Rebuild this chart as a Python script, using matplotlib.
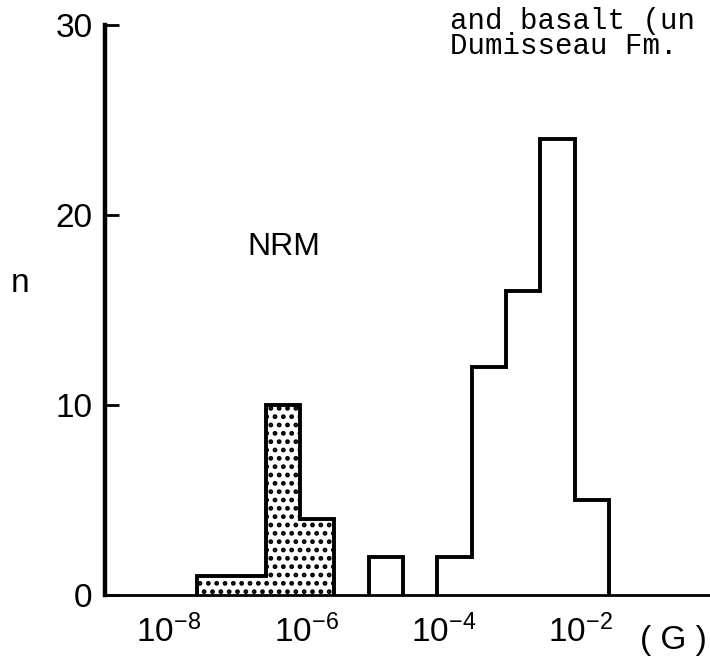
import numpy as np
import matplotlib
matplotlib.use("Agg")
import matplotlib.pyplot as plt
import matplotlib.transforms as mtransforms

# histogram data, x in log10(G), half-decade bins
stippled_edges = [-7.0, -6.5, -6.0, -5.5, -5.0]
stippled_counts = [1, 1, 10, 4]
open_edges = [-4.5, -4.0, -3.5, -3.0, -2.5, -2.0, -1.5, -1.0]
open_counts = [2, 0, 2, 12, 16, 24, 5]

xticks = [-8, -6, -4, -2]
xticklabels = [r"$10^{-8}$", r"$10^{-6}$", r"$10^{-4}$", r"$10^{-2}$"]
yticks = [0, 10, 20, 30]

plt.rcParams["font.family"] = ["Liberation Sans", "DejaVu Sans"]
plt.rcParams["mathtext.fontset"] = "custom"
plt.rcParams["mathtext.rm"] = "Liberation Sans"
plt.rcParams["mathtext.it"] = "Liberation Sans:italic"
plt.rcParams["mathtext.bf"] = "Liberation Sans:bold"
plt.rcParams["hatch.linewidth"] = 2.2


def outline_runs(ax, counts, edges, **kw):
    # draw the step outline for each run of non-empty bins
    counts = np.asarray(counts)
    edges = np.asarray(edges)
    i = 0
    while i < len(counts):
        if counts[i] == 0:
            i += 1
            continue
        j = i
        while j < len(counts) and counts[j] > 0:
            j += 1
        ax.stairs(counts[i:j], edges[i:j + 1], **kw)
        i = j


W, H = 710, 659
fig = plt.figure(figsize=(W / 100, H / 100), dpi=100)
ax = fig.add_axes([105 / W, 1 - 595 / H, 1 - 105 / W, (595 - 25) / H])
ax.set_xlim(-8.34, 0.47)
ax.set_ylim(0, 30)
ax.patch.set_visible(False)

# stippled group
ax.stairs(stippled_counts, stippled_edges, fill=True, facecolor="white",
          edgecolor="black", hatch="..", linewidth=0)
outline_runs(ax, stippled_counts, stippled_edges, color="black",
             linewidth=2.8, joinstyle="miter")
# open group
outline_runs(ax, open_counts, open_edges, color="black", linewidth=2.8,
             joinstyle="miter")

for side in ("top", "right"):
    ax.spines[side].set_visible(False)
ax.spines["left"].set_linewidth(3.2)
ax.spines["bottom"].set_linewidth(2.0)

ax.set_yticks(yticks)
ax.tick_params(axis="y", direction="in", length=10, width=2, pad=9,
               labelsize=24)
ax.set_xticks(xticks)
ax.set_xticklabels(xticklabels)
ax.tick_params(axis="x", length=0, pad=14, labelsize=24)
shift = mtransforms.ScaledTranslation(8 / 100, 0, fig.dpi_scale_trans)
for lab in ax.get_xticklabels():
    lab.set_horizontalalignment("left")
    lab.set_transform(lab.get_transform() + shift)

ax.text(-5.73, 18.3, "NRM", fontsize=23, ha="center", va="center")

fig.text(673 / W, 1 - 641 / H, "( G )", fontsize=24, ha="center", va="center")
fig.text(20 / W, 1 - 284 / H, "n", fontsize=24, ha="center", va="center")

fig.text(450 / W, 1 - 7 / H, "and basalt (un\nDumisseau Fm.",
         family="Liberation Mono", fontsize=21, ha="left", va="top",
         linespacing=0.85)

fig.savefig("out.png", dpi=100)
